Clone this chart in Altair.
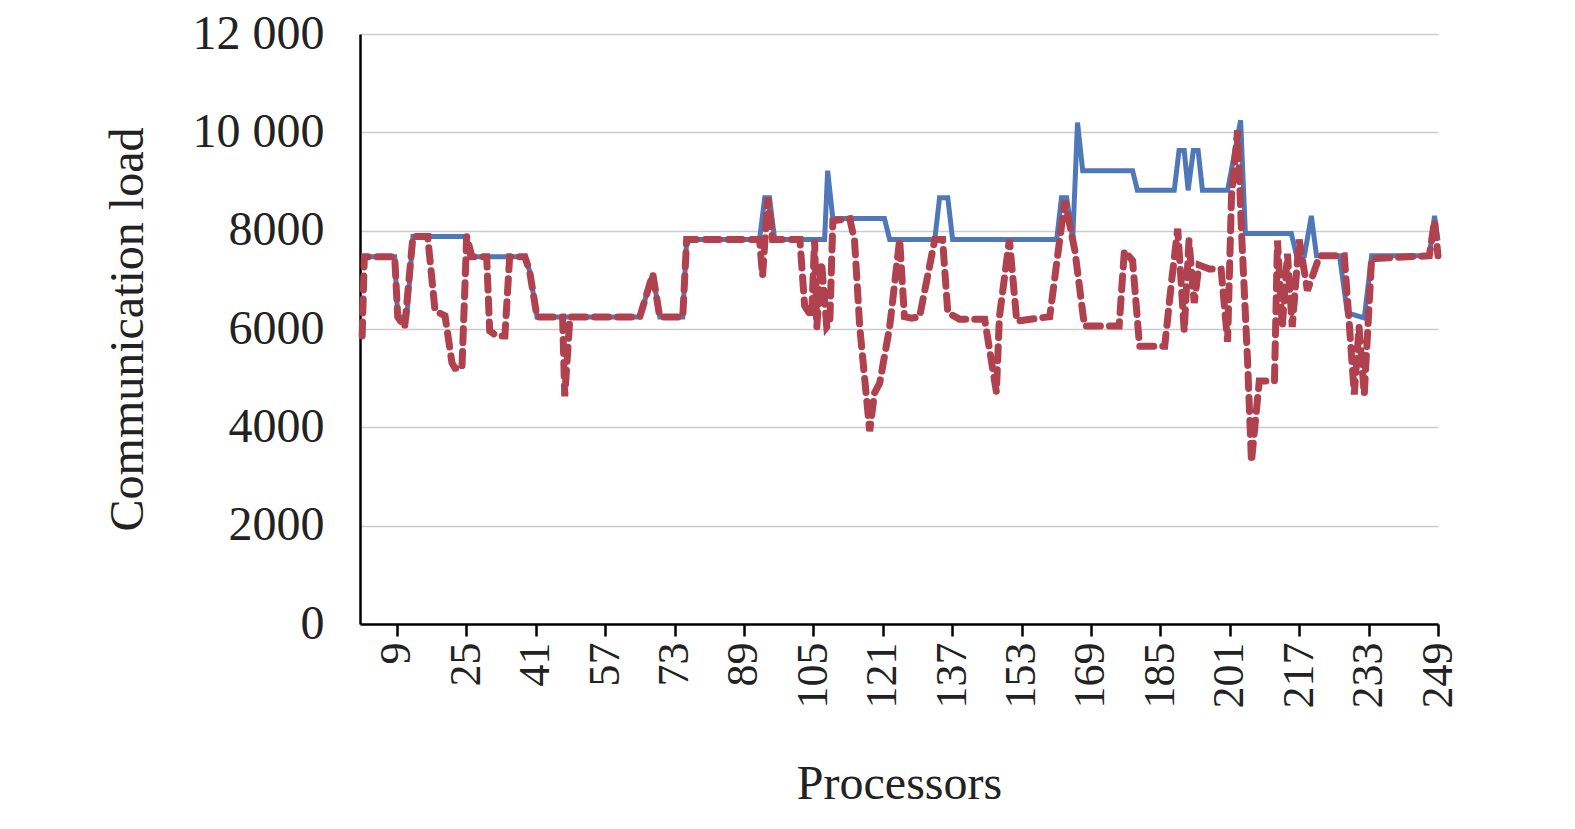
import altair as alt
import pandas as pd

# blue (solid) series: processor breakpoints and loads
blue_x = [1, 8.5, 9.2, 11.3, 12.7, 24.7, 25.8, 38.5, 39.6, 41.3, 65, 68, 69.6, 74.9, 75.8,
          92.6, 93.8, 94.9, 96.1, 107.6, 108.3, 109.5, 121.4, 122.6, 133, 134.1, 136, 137.1,
          161.1, 162.2, 163.4, 164.8, 165.9, 167.1, 178.6, 179.7, 188.2, 189.3, 190.5, 191.4,
          192.6, 193.7, 194.7, 200.5, 203.5, 204.6, 215.2, 216.4, 218.2, 219.8, 221, 226.3,
          228.1, 232, 233.7, 247, 248.2, 249]
blue_y = [7470, 7470, 6245, 6245, 7880, 7880, 7470, 7470, 7180, 6245, 6245, 7120, 6245, 6245, 7820,
          7820, 8670, 8670, 7820, 7820, 9220, 8245, 8245, 7820, 7820, 8670, 8670, 7820,
          7820, 8670, 8670, 7820, 10200, 9220, 9220, 8820, 8820, 9630, 9630, 8820,
          9630, 9630, 8820, 8820, 10245, 7940, 7940, 7490, 7490, 8300, 7490, 7490,
          6330, 6225, 7490, 7490, 8300, 7800]

# red (dashed) series
red_x = [1, 1.5, 8.5, 9.2, 10.8, 12.7, 16.1, 17.8, 20.1, 21.7, 22.4, 24, 25.1, 26.3, 29.7, 30.4,
         32, 33.9, 35, 38.5, 39.6, 41.3, 47.2, 47.7, 48.9, 65, 68, 69.6, 74.9, 75.8, 92.6, 93.3,
         94.5, 95.6, 101.9, 103, 104.6, 105.3, 105.8, 106.9, 108.1, 108.8, 109.5, 113.4, 114.5,
         115.7, 118, 119.1, 120.3, 122.6, 124.9, 126, 127.7, 129.5, 133, 134.8, 136, 138.7,
         144.5, 147.2, 147.9, 150.2, 151.9, 159.5, 161.8, 163, 165.3, 167.5, 175.5, 176.7,
         178.6, 180.2, 186, 187.6, 189, 190.5, 191.6, 192.8, 193.9, 196.3, 199, 200.5, 201.4,
         202.8, 203.7, 205.1, 206, 207.8, 211.3, 212, 213.1, 214.3, 215.4, 217, 218.9, 221.7,
         227.4, 228.6, 229.7, 230.8, 232, 233.7, 247, 248.2, 249]
red_y = [5860, 7470, 7470, 6245, 6040, 7880, 7880, 6370, 6270, 5310, 5200, 5200, 7880, 7470, 7470, 5960,
         5860, 5860, 7470, 7470, 7180, 6245, 6245, 4630, 6245, 6245, 7120, 6245, 6245, 7820, 7820, 7080,
         8670, 7820, 7820, 6470, 6250, 7820, 6040, 7350, 6040, 6120, 8200, 8245, 7800,
         6040, 3920, 4700, 4900, 6040, 7820, 6250, 6220, 6250, 7820, 7820, 6330, 6200,
         6200, 4720, 6250, 7820, 6160, 6250, 7820, 8610, 7590, 6060, 6060, 7590,
         7390, 5650, 5650, 6980, 8040, 5960, 7800, 6530, 7300, 7220, 7220, 5740, 8710,
         10040, 8000, 5350, 3300, 4940, 4940, 7800, 6040, 7530, 6040, 7820, 6780, 7490,
         7490, 6040, 4670, 6040, 4670, 7430, 7490, 8200, 7490]

x_ticks = list(range(9, 250, 16))
y_ticks = [0, 2000, 4000, 6000, 8000, 10000, 12000]

blue = pd.DataFrame({"p": blue_x, "load": blue_y})
red = pd.DataFrame({"p": red_x, "load": red_y})

FONT = "Liberation Serif"

x = alt.X("p:Q", title="Processors",
          scale=alt.Scale(domain=[0.5, 249], nice=False, zero=False),
          axis=alt.Axis(values=x_ticks, labelAngle=270, labelAlign="right", labelBaseline="middle",
                        labelFontSize=44, labelPadding=6, tickSize=12, tickWidth=2.5, tickColor="black",
                        domainColor="black", domainWidth=2.5, grid=False, titleFontSize=48,
                        titleFontWeight="normal", titlePadding=52, labelColor="#222", titleColor="#222"))
y = alt.Y("load:Q", title="Communication load",
          scale=alt.Scale(domain=[0, 12000], nice=False),
          axis=alt.Axis(values=y_ticks, tickSize=0, labelFontSize=48, labelPadding=36,
                        labelExpr="datum.value >= 10000 ? format(datum.value/1000, 'd') + ' 000' : format(datum.value, 'd')",
                        domainColor="black", domainWidth=2.5, gridColor="#cccccc", gridWidth=1.5,
                        titleFontSize=48, titleFontWeight="normal", titlePadding=40,
                        labelColor="#222", titleColor="#222"))

blue_line = alt.Chart(blue).mark_line(color="#4f78b8", strokeWidth=5).encode(x=x, y=y)
red_line = alt.Chart(red).mark_line(color="#b0424f", strokeWidth=7, strokeDash=[14, 9],
                                    strokeCap="round").encode(x=x, y=y)

chart = (alt.layer(blue_line, red_line)
         .properties(width=1078, height=590,
                     autosize=alt.AutoSizeParams(type="none"),
                     padding={"left": 352, "top": 26, "right": 100, "bottom": 190})
         .configure(font=FONT)
         .configure_view(stroke=None))

chart.save("out.html", embed_options={"renderer": "svg", "actions": False})
